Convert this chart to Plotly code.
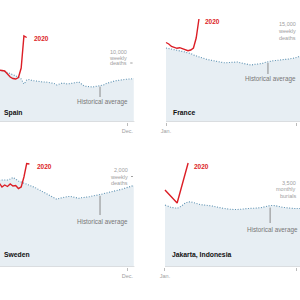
import plotly.graph_objects as go

# ---------------- data ----------------
week_index = list(range(51))                      # weeks since Jan. 1
month_days = [0, 31, 59, 90, 120, 151, 181, 212, 243, 273, 304, 334, 365]

spain_avg = [8900, 8814, 8730, 8560, 8390, 8220, 7970, 7800, 7630, 7290, 6440, 7120, 7200,
             7030, 6950, 6860, 6780, 6780, 6780, 6700, 6700, 6530, 6270, 6440, 6610, 6530,
             6440, 6530, 6610, 6700, 6780, 6440, 6100, 6020, 5930, 5930, 6020, 6100, 6190,
             6270, 6530, 6700, 6780, 6950, 7030, 7120, 7120, 7200, 7290, 7290, 7370]
spain_2020 = [8814, 8814, 8729, 8644, 8136, 7627, 7373, 7288, 7543, 9153, 14577, 14323]

france_avg = [13214, 13125, 13036, 12946, 12857, 12768, 12679, 12500, 12321, 12232, 11964,
              11786, 11607, 11429, 11339, 11161, 11071, 10982, 10804, 10714, 10625, 10589,
              10589, 10589, 10661, 10714, 10714, 10571, 10482, 10357, 10179, 10179, 10268,
              10304, 10357, 10446, 10625, 10768, 10893, 10946, 10982, 11071, 11071, 11161,
              11196, 11250, 11339, 11429, 11607, 11786, 11964]
france_2020 = [14196, 13929, 13482, 13250, 13161, 13268, 13125, 12857, 12732, 12857, 13214,
               15000, 18393]

sweden_avg = [1933, 1933, 1922, 1922, 1933, 1956, 1989, 1956, 1911, 1889, 1867, 1833, 1822,
              1800, 1767, 1733, 1700, 1656, 1622, 1589, 1567, 1533, 1504, 1527, 1544, 1556,
              1567, 1567, 1556, 1533, 1527, 1540, 1544, 1556, 1562, 1578, 1584, 1600, 1615,
              1629, 1651, 1660, 1671, 1682, 1695, 1711, 1733, 1756, 1778, 1800, 1811]
sweden_2020 = [1889, 1867, 1778, 1822, 1789, 1844, 1800, 1811, 1744, 1778, 2000, 2300, 2289]

jakarta_avg = [3057, 2909, 3205, 3081, 3007, 2884, 2835, 2884, 2923, 3032, 2934, 2884, 2909]
jakarta_2020 = [3796, 3155, 5127]

titles = ["Spain", "France", "Sweden", "Jakarta, Indonesia"]
unit_labels = [["10,000", "weekly", "deaths"], ["15,000", "weekly", "deaths"],
               ["2,000", "weekly", "deaths"], ["3,500", "monthly", "burials"]]
unit_values = [[11865, 10933, 10000], [17500, 16250, 15000],
               [2155, 2011, 1867], [4141, 3821, 3500]]
tick_labels = ["Jan.", "Dec."]
tick_days = [0, 334]

# ---------------- style / layout ----------------
RED = "#dc1e26"
DOT = "#5f93b3"
SHADE = "#e7eef3"
GRAY = "#8a8a8a"
LIGHT = "#a0a0a0"
FONT = "Liberation Sans"

week_days = [7 * w for w in week_index]

panels = [
    dict(x=week_days, avg=spain_avg, cur=spain_2020, cur_x=week_days,
         xr=[9.0, 391.4], xd=[0, 0.5], yd=[1 - 122 / 300, 1], yr=[0, 20678],
         title_y=1525, yr2020=(90.5, 14238), unit_x=337.8, dash=(341, 347, 10000),
         hist=(264, 4237, 6000, 3390), spline=False),
    dict(x=week_days, avg=france_avg, cur=france_2020, cur_x=week_days,
         xr=[-40.8, 341.7], xd=[0.5, 1.0], yd=[1 - 122 / 300, 1], yr=[0, 21786],
         title_y=1786, yr2020=(94.3, 17860), unit_x=336.6, dash=None,
         hist=(260, 8571, 10550, 7679), spline=False),
    dict(x=week_days, avg=sweden_avg, cur=sweden_2020, cur_x=week_days,
         xr=[9.0, 391.4], xd=[0, 0.5], yd=[1 - 267 / 300, 1 - 140 / 300], yr=[0, 2822],
         title_y=267, yr2020=(98.2, 2244), unit_x=340.4, dash=(343, 348, 2011),
         hist=(264, 1155, 1580, 1000), spline=False),
    dict(x=month_days, avg=jakarta_avg, cur=jakarta_2020, cur_x=month_days[:3],
         xr=[-38.2, 344.2], xd=[0.5, 1.0], yd=[1 - 267 / 300, 1 - 140 / 300], yr=[0, 6261],
         title_y=592, yr2020=(68.8, 4979), unit_x=339, dash=None,
         hist=(268, 2169, 2930, 1824), spline=True),
]

fig = go.Figure()
layout = dict(width=300, height=300, margin=dict(l=0, r=0, t=0, b=0), autosize=False,
              paper_bgcolor="white", plot_bgcolor="rgba(0,0,0,0)", showlegend=False,
              font=dict(family=FONT))
annotations = []
shapes = []

for i, p in enumerate(panels):
    n = "" if i == 0 else str(i + 1)
    xa, ya = "x" + n, "y" + n
    shape = "spline" if p["spline"] else "linear"
    fig.add_trace(go.Scatter(x=p["x"], y=p["avg"], xaxis=xa, yaxis=ya, mode="lines",
                             line=dict(color=DOT, width=1.1, dash="1px,1.6px", shape=shape),
                             fill="tozeroy", fillcolor=SHADE, hoverinfo="skip"))
    fig.add_trace(go.Scatter(x=p["cur_x"], y=p["cur"], xaxis=xa, yaxis=ya, mode="lines",
                             line=dict(color=RED, width=1.4), hoverinfo="skip"))
    layout["xaxis" + n] = dict(domain=p["xd"], range=p["xr"], anchor=ya, showgrid=False,
                               zeroline=False, showline=False, tickvals=tick_days,
                               ticktext=tick_labels, ticks="outside", ticklen=3,
                               tickcolor="#bbbbbb", tickwidth=1,
                               tickfont=dict(size=5.5, color=LIGHT, family=FONT))
    layout["yaxis" + n] = dict(domain=p["yd"], range=p["yr"], anchor=xa, visible=False)

    # baseline
    shapes.append(dict(type="line", xref=xa, yref=ya, x0=-12 if i in (0, 2) else 0, x1=352,
                       y0=0, y1=0, line=dict(color="#cccccc", width=1)))
    # title
    annotations.append(dict(xref=xa, yref=ya, x=13, y=p["title_y"], text="<b>%s</b>" % titles[i],
                            showarrow=False, xanchor="left", yanchor="middle",
                            font=dict(size=6.8, color="#111111", family=FONT)))
    # 2020 label
    annotations.append(dict(xref=xa, yref=ya, x=p["yr2020"][0], y=p["yr2020"][1],
                            text="<b>2020</b>", showarrow=False, xanchor="left",
                            yanchor="middle", font=dict(size=6.5, color=RED, family=FONT)))
    # unit labels
    for t, v in zip(unit_labels[i], unit_values[i]):
        annotations.append(dict(xref=xa, yref=ya, x=p["unit_x"], y=v, text=t,
                                showarrow=False, xanchor="right", yanchor="middle",
                                font=dict(size=5.5, color=LIGHT, family=FONT)))
    if p["dash"]:
        d0, d1, dv = p["dash"]
        shapes.append(dict(type="line", xref=xa, yref=ya, x0=d0, x1=d1, y0=dv, y1=dv,
                           line=dict(color=LIGHT, width=1)))
    # historical average marker
    hx, hy0, hy1, hty = p["hist"]
    shapes.append(dict(type="line", xref=xa, yref=ya, x0=hx, x1=hx, y0=hy0, y1=hy1,
                       line=dict(color=GRAY, width=1)))
    annotations.append(dict(xref=xa, yref=ya, x=hx + 6, y=hty, text="Historical average",
                            showarrow=False, xanchor="center", yanchor="middle",
                            font=dict(size=6.3, color="#777777", family=FONT)))

layout["annotations"] = annotations
layout["shapes"] = shapes
fig.update_layout(**layout)
fig.write_html("out.html")
